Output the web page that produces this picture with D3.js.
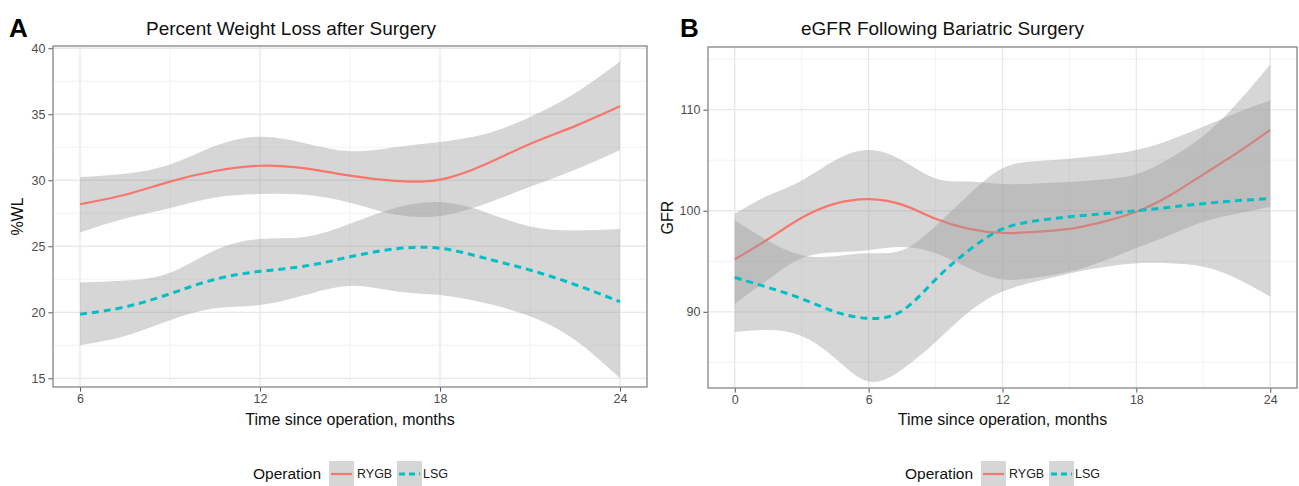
<!DOCTYPE html>
<meta charset="utf-8">
<html>
<head>
<title>Bariatric surgery outcomes</title>
<script src="https://d3js.org/d3.v7.min.js"></script>
<style>
  body {margin: 0; background: #fff; font-family: "Liberation Sans", Arial, sans-serif;}
  .tick text {fill: #4d4d4d; font-size: 12.5px; font-family: "Liberation Sans", Arial, sans-serif;}
  .tick line {stroke: #555;}
  .title {font-size: 19px; fill: #111;}
  .letter {font-size: 26px; font-weight: bold; fill: #000;}
  .label {font-size: 16px; fill: #111;}
  .legend {font-size: 12.5px; fill: #222;}
  .legend-title {font-size: 15.5px; fill: #111;}
</style>
</head>
<body>
<svg id="chart" width="1299" height="486"></svg>
<script>
// ---- panel A: percent weight loss ----
var monthsA = [6, 7.5, 9, 10.5, 12, 13.5, 15, 16.5, 18, 19.5, 21, 22.5, 24];
var rygbA    = [28.18, 28.9, 29.9, 30.7, 31.1, 30.9, 30.35, 29.95, 30.05, 31.2, 32.75, 34.1, 35.6];
var rygbAHi  = [30.25, 30.5, 31.2, 32.6, 33.3, 32.8, 32.2, 32.5, 32.9, 33.5, 34.8, 36.6, 39.0];
var rygbALo  = [26.05, 27.1, 27.9, 28.7, 28.95, 28.9, 28.3, 27.4, 27.3, 28.2, 29.5, 30.8, 32.3];
var lsgA     = [19.85, 20.4, 21.4, 22.5, 23.1, 23.5, 24.2, 24.8, 24.85, 24.1, 23.2, 22.1, 20.8];
var lsgAHi   = [22.25, 22.4, 23.0, 24.7, 25.55, 25.7, 26.7, 27.9, 28.35, 27.6, 26.5, 26.2, 26.3];
var lsgALo   = [17.5, 18.2, 19.4, 20.3, 20.55, 21.3, 22.0, 21.6, 21.3, 20.7, 19.7, 17.9, 15.0];
var xTicksA = [6, 12, 18, 24], xMinorA = [9, 15, 21];
var yTicksA = [15, 20, 25, 30, 35, 40], yMinorA = [17.5, 22.5, 27.5, 32.5, 37.5];

// ---- panel B: eGFR ----
var monthsB = [0, 1.5, 3, 4.5, 6, 7.5, 9, 10.5, 12, 13.5, 15, 16.5, 18, 19.5, 21, 22.5, 24];
var rygbB   = [95.2, 97.2, 99.3, 100.7, 101.15, 100.6, 99.2, 98.2, 97.8, 97.9, 98.2, 98.9, 99.9, 101.5, 103.6, 105.7, 108.0];
var rygbBHi = [99.7, 101.5, 103.0, 105.0, 106.0, 105.0, 103.2, 102.9, 102.65, 102.7, 102.85, 103.1, 103.6, 105.2, 107.4, 110.6, 114.5];
var rygbBLo = [90.8, 93.2, 95.3, 95.9, 96.1, 96.4, 95.8, 94.3, 93.2, 93.4, 93.95, 95.0, 96.3, 97.6, 98.9, 99.7, 100.4];
var lsgB    = [93.4, 92.4, 91.3, 90.0, 89.35, 90.1, 93.2, 96.1, 98.2, 99.0, 99.4, 99.7, 100.0, 100.35, 100.7, 101.0, 101.2];
var lsgBHi  = [99.05, 97.0, 95.6, 95.5, 95.8, 96.1, 98.5, 101.6, 104.2, 104.9, 105.15, 105.5, 106.0, 107.0, 108.3, 109.7, 110.9];
var lsgBLo  = [88.0, 88.2, 87.6, 85.4, 83.1, 84.3, 87.0, 90.0, 92.0, 93.0, 93.8, 94.4, 94.8, 94.8, 94.45, 93.3, 91.5];
var xTicksB = [0, 6, 12, 18, 24], xMinorB = [3, 9, 15, 21];
var yTicksB = [90, 100, 110], yMinorB = [85, 95, 105, 115];

var groups = ["RYGB", "LSG"];
var colors = {RYGB: "#F8766D", LSG: "#00BFC4"};

var svg = d3.select("#chart");

function drawPanel(p) {
  var x = d3.scaleLinear().domain(p.xDomain).range([p.left, p.right]);
  var y = d3.scaleLinear().domain(p.yDomain).range([p.bottom, p.top]);
  var g = svg.append("g");

  // grid
  g.selectAll(".ymin").data(p.yMinor).enter().append("line")
      .attr("x1", p.left).attr("x2", p.right)
      .attr("y1", function (d) { return y(d); }).attr("y2", function (d) { return y(d); })
      .attr("stroke", "#f2f2f2").attr("stroke-width", 1);
  g.selectAll(".xmin").data(p.xMinor).enter().append("line")
      .attr("y1", p.top).attr("y2", p.bottom)
      .attr("x1", function (d) { return x(d); }).attr("x2", function (d) { return x(d); })
      .attr("stroke", "#f2f2f2").attr("stroke-width", 1);
  g.selectAll(".ymaj").data(p.yTicks).enter().append("line")
      .attr("x1", p.left).attr("x2", p.right)
      .attr("y1", function (d) { return y(d); }).attr("y2", function (d) { return y(d); })
      .attr("stroke", "#e8e8e8").attr("stroke-width", 1.3);
  g.selectAll(".xmaj").data(p.xTicks).enter().append("line")
      .attr("y1", p.top).attr("y2", p.bottom)
      .attr("x1", function (d) { return x(d); }).attr("x2", function (d) { return x(d); })
      .attr("stroke", "#e8e8e8").attr("stroke-width", 1.3);

  var curve = d3.curveNatural;
  var area = d3.area()
      .x(function (d) { return x(d.m); })
      .y0(function (d) { return y(d.lo); })
      .y1(function (d) { return y(d.hi); })
      .curve(curve);
  var line = d3.line()
      .x(function (d) { return x(d.m); })
      .y(function (d) { return y(d.v); })
      .curve(curve);

  // ribbon then line per group, like ggplot's geom_smooth
  p.series.forEach(function (s) {
    var rows = p.months.map(function (m, i) {
      return {m: m, v: s.v[i], lo: s.lo[i], hi: s.hi[i]};
    });
    g.append("path").datum(rows)
        .attr("d", area)
        .attr("fill", "#999999").attr("fill-opacity", 0.4);
    g.append("path").datum(rows)
        .attr("d", line)
        .attr("fill", "none")
        .attr("stroke", colors[s.name])
        .attr("stroke-width", s.name === "LSG" ? 3 : 2.2)
        .attr("stroke-dasharray", s.name === "LSG" ? "7,5" : null);
  });

  // border
  g.append("rect")
      .attr("x", p.left).attr("y", p.top)
      .attr("width", p.right - p.left).attr("height", p.bottom - p.top)
      .attr("fill", "none").attr("stroke", "#7a7a7a").attr("stroke-width", 1.2);

  var xAxis = d3.axisBottom(x).tickValues(p.xTicks).tickSize(4).tickPadding(3);
  var yAxis = d3.axisLeft(y).tickValues(p.yTicks).tickSize(4).tickPadding(3);
  g.append("g").attr("transform", "translate(0," + (p.bottom + 0.6) + ")").call(xAxis)
      .call(function (a) { a.select(".domain").remove(); });
  g.append("g").attr("transform", "translate(" + (p.left - 0.6) + ",0)").call(yAxis)
      .call(function (a) { a.select(".domain").remove(); });

  // texts
  g.append("text").attr("class", "letter").attr("x", p.letterX).attr("y", 37).text(p.letter);
  g.append("text").attr("class", "title").attr("x", p.left + 93).attr("y", 35).text(p.title);
  g.append("text").attr("class", "label")
      .attr("x", (p.left + p.right) / 2).attr("y", 425)
      .attr("text-anchor", "middle").text("Time since operation, months");
  g.append("text").attr("class", "label")
      .attr("transform", "translate(" + p.yLabelX + "," + ((p.top + p.bottom) / 2) + ") rotate(-90)")
      .attr("text-anchor", "middle").text(p.yLabel);

  // legend
  var leg = g.append("g").attr("transform", "translate(" + p.legendX + ",0)");
  leg.append("text").attr("class", "legend-title").attr("x", 0).attr("y", 479).text("Operation");
  var keyX = [76, 144], labX = [104, 170];
  groups.forEach(function (name, i) {
    leg.append("rect").attr("x", keyX[i]).attr("y", 461).attr("width", 25).attr("height", 26)
        .attr("fill", "#d6d6d6");
    leg.append("line").attr("x1", keyX[i] + 2).attr("x2", keyX[i] + 23)
        .attr("y1", 474).attr("y2", 474)
        .attr("stroke", colors[name]).attr("stroke-width", name === "LSG" ? 3 : 2.2)
        .attr("stroke-dasharray", name === "LSG" ? "6,4" : null);
    leg.append("text").attr("class", "legend").attr("x", labX[i]).attr("y", 478).text(name);
  });
}

drawPanel({
  left: 53, right: 647, top: 46, bottom: 387,
  xDomain: [5.1, 24.9], yDomain: [14.34, 40.17],
  xTicks: xTicksA, xMinor: xMinorA, yTicks: yTicksA, yMinor: yMinorA,
  months: monthsA,
  series: [
    {name: "RYGB", v: rygbA, lo: rygbALo, hi: rygbAHi},
    {name: "LSG", v: lsgA, lo: lsgALo, hi: lsgAHi}
  ],
  title: "Percent Weight Loss after Surgery", letter: "A", letterX: 9,
  yLabel: "%WL", yLabelX: 23, legendX: 253
});

drawPanel({
  left: 708, right: 1297, top: 47, bottom: 388,
  xDomain: [-1.2, 25.2], yDomain: [82.46, 116.2],
  xTicks: xTicksB, xMinor: xMinorB, yTicks: yTicksB, yMinor: yMinorB,
  months: monthsB,
  series: [
    {name: "RYGB", v: rygbB, lo: rygbBLo, hi: rygbBHi},
    {name: "LSG", v: lsgB, lo: lsgBLo, hi: lsgBHi}
  ],
  title: "eGFR Following Bariatric Surgery", letter: "B", letterX: 680,
  yLabel: "GFR", yLabelX: 673, legendX: 905
});
</script>
</body>
</html>
